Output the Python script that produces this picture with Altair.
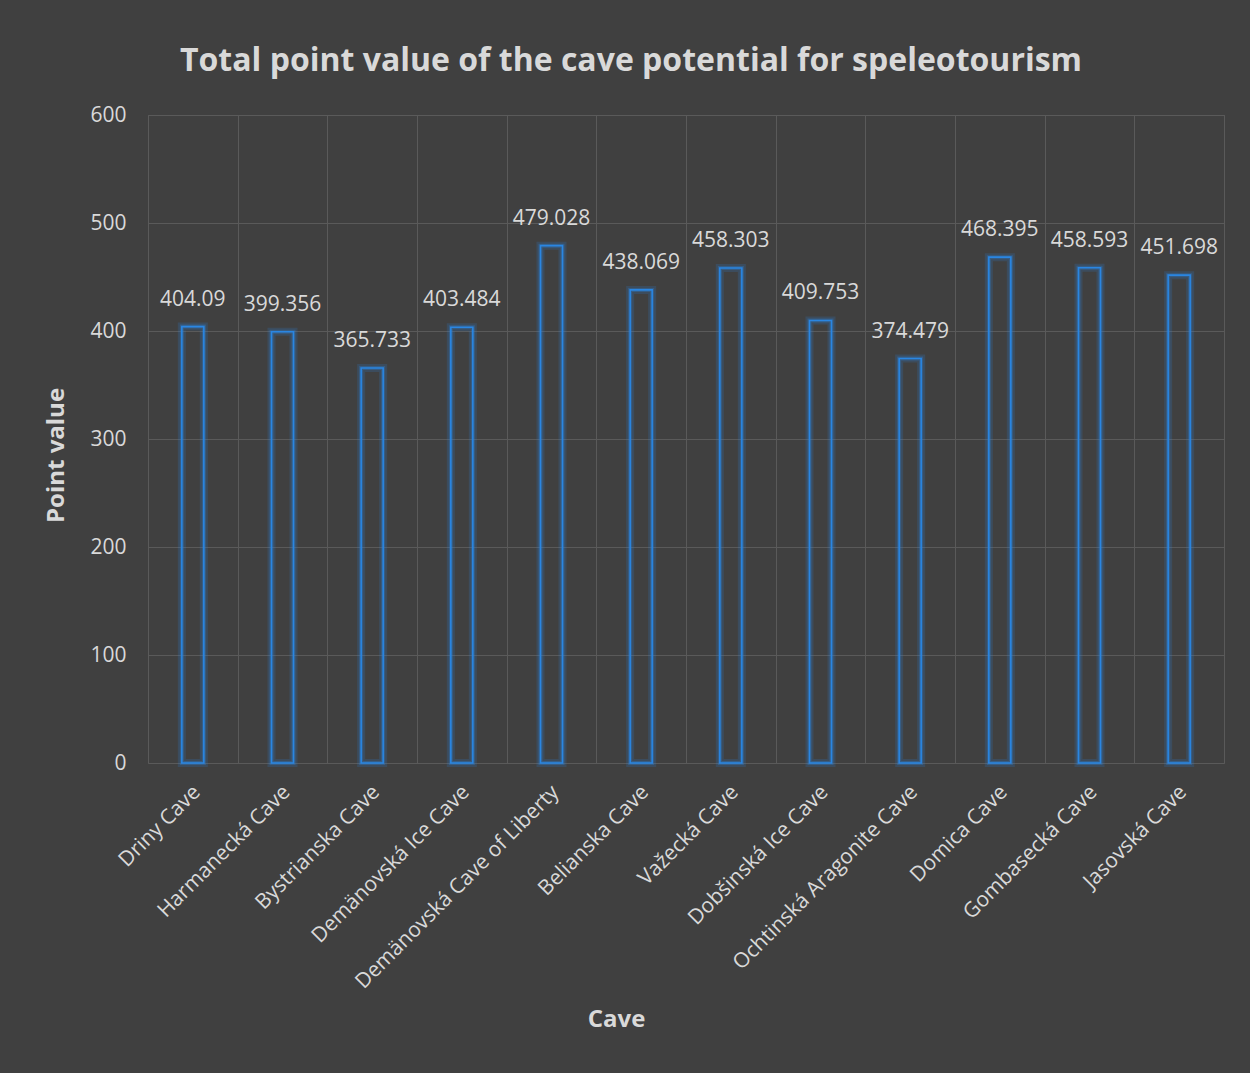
import altair as alt
import pandas as pd

caves = [
    "Driny Cave", "Harmanecká Cave", "Bystrianska Cave", "Demänovská Ice Cave",
    "Demänovská Cave of Liberty", "Belianska Cave", "Važecká Cave",
    "Dobšinská Ice Cave", "Ochtinská Aragonite Cave", "Domica Cave",
    "Gombasecká Cave", "Jasovská Cave",
]
values = [404.09, 399.356, 365.733, 403.484, 479.028, 438.069, 458.303,
          409.753, 374.479, 468.395, 458.593, 451.698]

df = pd.DataFrame({"Cave": caves, "Point value": values})

FONT = "Open Sans"
TXT = "#d9d9d9"
BG = "#404040"
GRID = "#5a5a5a"
BLUE = "#2a86e2"

x_enc = alt.X(
    "Cave:N", sort=caves, title="Cave",
    scale=alt.Scale(paddingInner=0, paddingOuter=0),
    axis=alt.Axis(
        labelAngle=-45, labelAlign="right", labelBaseline="top",
        labelPadding=18, labelFontSize=21, labelColor=TXT, labelFont=FONT,
        labelLimit=500, labelOffset=-4,
        ticks=False, domain=False, grid=True, tickBand="extent",
        gridColor=GRID, gridWidth=1,
        titleFontSize=24, titleFontWeight="bold", titleColor=TXT, titleFont=FONT,
        titleX=468, titleY=256, titleBaseline="middle", titleAlign="center",
    ),
)
y_enc = alt.Y(
    "Point value:Q", title="Point value",
    scale=alt.Scale(domain=[0, 600], nice=False),
    axis=alt.Axis(
        values=[0, 100, 200, 300, 400, 500, 600],
        labelFontSize=21, labelColor=TXT, labelFont=FONT, labelPadding=22,
        ticks=False, domain=False, gridColor=GRID, gridWidth=1,
        gridOpacity={"condition": {"test": "datum.value === 0", "value": 0}, "value": 1},
        titleFontSize=24, titleFontWeight="bold", titleColor=TXT, titleFont=FONT,
        titleAngle=-90, titleX=-85, titleY=340, titleBaseline="alphabetic",
        titleAlign="center",
    ),
)

base = alt.Chart(df).encode(x=x_enc, y=y_enc)

glow = base.mark_bar(size=22, fill="transparent", stroke=BLUE,
                     strokeWidth=8, strokeOpacity=0.18)
glow2 = base.mark_bar(size=22, fill="transparent", stroke=BLUE,
                      strokeWidth=4, strokeOpacity=0.3)
bars = base.mark_bar(size=22, fill="transparent", stroke=BLUE, strokeWidth=1.6)
labels = base.mark_text(
    baseline="middle", align="center", dy=-27, fontSize=21, color=TXT, font=FONT
).encode(text=alt.Text("Point value:Q", format=".6~r"))

chart = (
    alt.layer(glow, glow2, bars, labels)
    .properties(
        width=1076, height=648,
        autosize=alt.AutoSizeParams(type="none"),
        padding={"left": 148, "top": 115, "right": 26, "bottom": 310},
        background=BG,
        title=alt.TitleParams(
            "Total point value of the cave potential for speleotourism",
            fontSize=32, fontWeight="bold", color=TXT, font=FONT,
            anchor="middle", frame="group", baseline="alphabetic",
            offset=44, dx=-55, dy=43,
        ),
    )
    .configure_view(stroke=GRID, strokeWidth=1)
)

chart.save("out.html", embed_options={"renderer": "svg", "actions": False})
